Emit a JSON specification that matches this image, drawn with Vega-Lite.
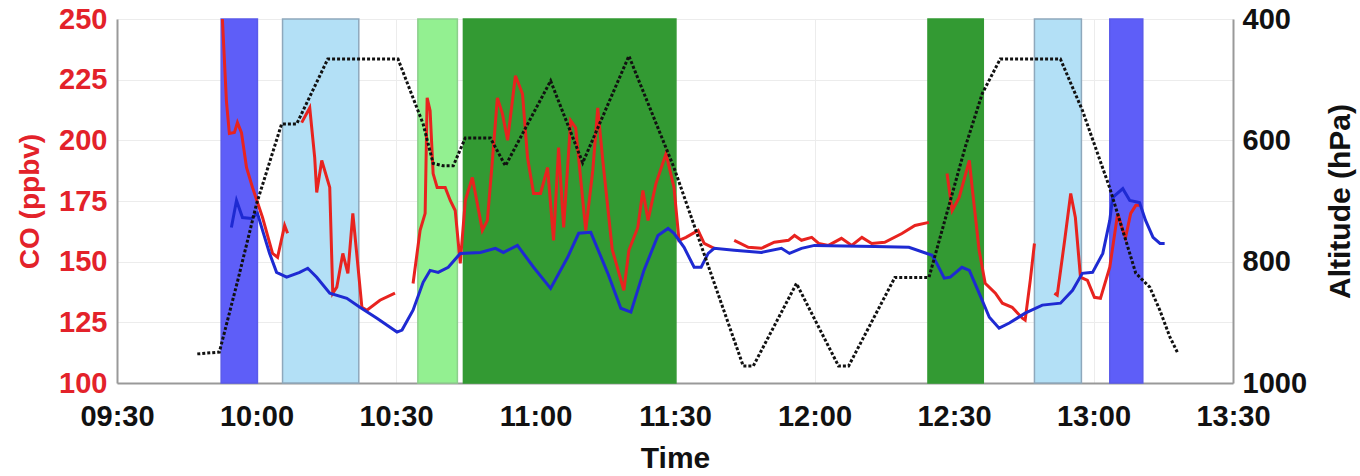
{
  "$schema": "https://vega.github.io/schema/vega-lite/v6.json",
  "width": 1360,
  "height": 476,
  "autosize": {"type": "fit", "contains": "padding"},
  "padding": {"left": 16, "top": 5, "right": 4, "bottom": 3},
  "background": "white",
  "config": {"view": {"stroke": null}},
  "datasets": {
    "bands": [
      {"start": "2000-01-01T09:52:24", "end": "2000-01-01T10:00:12", "kind": "blue"},
      {"start": "2000-01-01T10:05:36", "end": "2000-01-01T10:22:00", "kind": "lightblue"},
      {"start": "2000-01-01T10:34:42", "end": "2000-01-01T10:43:12", "kind": "lightgreen"},
      {"start": "2000-01-01T10:44:30", "end": "2000-01-01T11:30:12", "kind": "green"},
      {"start": "2000-01-01T12:24:24", "end": "2000-01-01T12:36:18", "kind": "green"},
      {"start": "2000-01-01T12:47:18", "end": "2000-01-01T12:57:24", "kind": "lightblue"},
      {"start": "2000-01-01T13:03:30", "end": "2000-01-01T13:10:36", "kind": "blue"}
    ],
    "co": [
      {"series": "measured", "seg": 1, "time": "2000-01-01T09:52:40", "co": 250},
      {"series": "measured", "seg": 1, "time": "2000-01-01T09:53:32", "co": 216},
      {"series": "measured", "seg": 1, "time": "2000-01-01T09:54:10", "co": 202.8},
      {"series": "measured", "seg": 1, "time": "2000-01-01T09:55:15", "co": 203.2},
      {"series": "measured", "seg": 1, "time": "2000-01-01T09:55:54", "co": 207.3},
      {"series": "measured", "seg": 1, "time": "2000-01-01T09:56:46", "co": 203.2},
      {"series": "measured", "seg": 1, "time": "2000-01-01T09:57:51", "co": 188.8},
      {"series": "measured", "seg": 1, "time": "2000-01-01T09:59:08", "co": 180.6},
      {"series": "measured", "seg": 1, "time": "2000-01-01T10:01:18", "co": 168.2},
      {"series": "measured", "seg": 1, "time": "2000-01-01T10:03:27", "co": 153.4},
      {"series": "measured", "seg": 1, "time": "2000-01-01T10:04:32", "co": 151.8},
      {"series": "measured", "seg": 1, "time": "2000-01-01T10:06:03", "co": 164.9},
      {"series": "measured", "seg": 1, "time": "2000-01-01T10:06:41", "co": 161.7},
      {"series": "measured", "seg": 2, "time": "2000-01-01T10:09:43", "co": 207.3},
      {"series": "measured", "seg": 2, "time": "2000-01-01T10:11:27", "co": 213.4},
      {"series": "measured", "seg": 2, "time": "2000-01-01T10:12:31", "co": 192.9},
      {"series": "measured", "seg": 2, "time": "2000-01-01T10:12:57", "co": 178.5},
      {"series": "measured", "seg": 2, "time": "2000-01-01T10:14:02", "co": 191.7},
      {"series": "measured", "seg": 2, "time": "2000-01-01T10:15:45", "co": 180.6},
      {"series": "measured", "seg": 2, "time": "2000-01-01T10:16:24", "co": 137},
      {"series": "measured", "seg": 2, "time": "2000-01-01T10:17:16", "co": 139.5},
      {"series": "measured", "seg": 2, "time": "2000-01-01T10:18:34", "co": 153.4},
      {"series": "measured", "seg": 2, "time": "2000-01-01T10:19:39", "co": 145.2},
      {"series": "measured", "seg": 2, "time": "2000-01-01T10:20:43", "co": 169.9},
      {"series": "measured", "seg": 2, "time": "2000-01-01T10:22:40", "co": 131.2},
      {"series": "measured", "seg": 2, "time": "2000-01-01T10:23:45", "co": 130},
      {"series": "measured", "seg": 2, "time": "2000-01-01T10:26:33", "co": 134.1},
      {"series": "measured", "seg": 2, "time": "2000-01-01T10:29:47", "co": 137},
      {"series": "measured", "seg": 3, "time": "2000-01-01T10:33:40", "co": 141},
      {"series": "measured", "seg": 3, "time": "2000-01-01T10:35:11", "co": 162.9},
      {"series": "measured", "seg": 3, "time": "2000-01-01T10:36:16", "co": 169.9},
      {"series": "measured", "seg": 3, "time": "2000-01-01T10:36:42", "co": 217.5},
      {"series": "measured", "seg": 3, "time": "2000-01-01T10:37:20", "co": 212.2},
      {"series": "measured", "seg": 3, "time": "2000-01-01T10:37:59", "co": 186.3},
      {"series": "measured", "seg": 3, "time": "2000-01-01T10:38:51", "co": 180.6},
      {"series": "measured", "seg": 3, "time": "2000-01-01T10:40:35", "co": 180.6},
      {"series": "measured", "seg": 3, "time": "2000-01-01T10:41:40", "co": 175.2},
      {"series": "measured", "seg": 3, "time": "2000-01-01T10:42:44", "co": 171.1},
      {"series": "measured", "seg": 3, "time": "2000-01-01T10:43:49", "co": 149.3},
      {"series": "measured", "seg": 3, "time": "2000-01-01T10:44:54", "co": 175.2},
      {"series": "measured", "seg": 3, "time": "2000-01-01T10:46:25", "co": 184.7},
      {"series": "measured", "seg": 3, "time": "2000-01-01T10:48:34", "co": 162.9},
      {"series": "measured", "seg": 3, "time": "2000-01-01T10:49:39", "co": 167},
      {"series": "measured", "seg": 3, "time": "2000-01-01T10:50:44", "co": 191.7},
      {"series": "measured", "seg": 3, "time": "2000-01-01T10:51:48", "co": 217.5},
      {"series": "measured", "seg": 3, "time": "2000-01-01T10:52:53", "co": 211},
      {"series": "measured", "seg": 3, "time": "2000-01-01T10:54:00", "co": 200},
      {"series": "measured", "seg": 3, "time": "2000-01-01T10:55:41", "co": 226.6},
      {"series": "measured", "seg": 3, "time": "2000-01-01T10:57:12", "co": 219.2},
      {"series": "measured", "seg": 3, "time": "2000-01-01T10:58:17", "co": 192.9},
      {"series": "measured", "seg": 3, "time": "2000-01-01T10:59:35", "co": 178.1},
      {"series": "measured", "seg": 3, "time": "2000-01-01T11:01:05", "co": 178.1},
      {"series": "measured", "seg": 3, "time": "2000-01-01T11:02:36", "co": 188.8},
      {"series": "measured", "seg": 3, "time": "2000-01-01T11:03:53", "co": 158.8},
      {"series": "measured", "seg": 3, "time": "2000-01-01T11:04:58", "co": 197},
      {"series": "measured", "seg": 3, "time": "2000-01-01T11:06:03", "co": 164.1},
      {"series": "measured", "seg": 3, "time": "2000-01-01T11:07:34", "co": 208.1},
      {"series": "measured", "seg": 3, "time": "2000-01-01T11:08:38", "co": 205.2},
      {"series": "measured", "seg": 3, "time": "2000-01-01T11:10:48", "co": 162.9},
      {"series": "measured", "seg": 3, "time": "2000-01-01T11:12:19", "co": 187.5},
      {"series": "measured", "seg": 3, "time": "2000-01-01T11:13:23", "co": 213.4},
      {"series": "measured", "seg": 3, "time": "2000-01-01T11:14:28", "co": 191.7},
      {"series": "measured", "seg": 3, "time": "2000-01-01T11:16:30", "co": 155},
      {"series": "measured", "seg": 3, "time": "2000-01-01T11:19:00", "co": 138.2},
      {"series": "measured", "seg": 3, "time": "2000-01-01T11:20:05", "co": 154.7},
      {"series": "measured", "seg": 3, "time": "2000-01-01T11:22:00", "co": 164.1},
      {"series": "measured", "seg": 3, "time": "2000-01-01T11:23:06", "co": 179.3},
      {"series": "measured", "seg": 3, "time": "2000-01-01T11:24:12", "co": 167},
      {"series": "measured", "seg": 3, "time": "2000-01-01T11:25:54", "co": 182.2},
      {"series": "measured", "seg": 3, "time": "2000-01-01T11:28:04", "co": 194.5},
      {"series": "measured", "seg": 3, "time": "2000-01-01T11:29:47", "co": 180.6},
      {"series": "measured", "seg": 3, "time": "2000-01-01T11:30:52", "co": 158.8},
      {"series": "measured", "seg": 3, "time": "2000-01-01T11:32:22", "co": 160},
      {"series": "measured", "seg": 3, "time": "2000-01-01T11:34:58", "co": 162.9},
      {"series": "measured", "seg": 3, "time": "2000-01-01T11:36:16", "co": 157.5},
      {"series": "measured", "seg": 3, "time": "2000-01-01T11:38:26", "co": 155.5},
      {"series": "measured", "seg": 4, "time": "2000-01-01T11:42:44", "co": 158.8},
      {"series": "measured", "seg": 4, "time": "2000-01-01T11:45:46", "co": 155.9},
      {"series": "measured", "seg": 4, "time": "2000-01-01T11:48:34", "co": 155.5},
      {"series": "measured", "seg": 4, "time": "2000-01-01T11:51:22", "co": 158},
      {"series": "measured", "seg": 4, "time": "2000-01-01T11:54:24", "co": 158.8},
      {"series": "measured", "seg": 4, "time": "2000-01-01T11:55:42", "co": 160.8},
      {"series": "measured", "seg": 4, "time": "2000-01-01T11:57:12", "co": 158.8},
      {"series": "measured", "seg": 4, "time": "2000-01-01T11:59:24", "co": 160},
      {"series": "measured", "seg": 4, "time": "2000-01-01T12:00:54", "co": 157.5},
      {"series": "measured", "seg": 4, "time": "2000-01-01T12:03:00", "co": 156.7},
      {"series": "measured", "seg": 4, "time": "2000-01-01T12:05:48", "co": 159.6},
      {"series": "measured", "seg": 4, "time": "2000-01-01T12:08:00", "co": 156.7},
      {"series": "measured", "seg": 4, "time": "2000-01-01T12:10:12", "co": 160},
      {"series": "measured", "seg": 4, "time": "2000-01-01T12:12:18", "co": 157.5},
      {"series": "measured", "seg": 4, "time": "2000-01-01T12:15:06", "co": 158},
      {"series": "measured", "seg": 4, "time": "2000-01-01T12:18:48", "co": 161.6},
      {"series": "measured", "seg": 4, "time": "2000-01-01T12:21:36", "co": 164.9},
      {"series": "measured", "seg": 4, "time": "2000-01-01T12:24:36", "co": 166.2},
      {"series": "measured", "seg": 5, "time": "2000-01-01T12:28:30", "co": 186.3},
      {"series": "measured", "seg": 5, "time": "2000-01-01T12:29:36", "co": 171.1},
      {"series": "measured", "seg": 5, "time": "2000-01-01T12:31:06", "co": 176.4},
      {"series": "measured", "seg": 5, "time": "2000-01-01T12:33:18", "co": 191.7},
      {"series": "measured", "seg": 5, "time": "2000-01-01T12:33:54", "co": 180.6},
      {"series": "measured", "seg": 5, "time": "2000-01-01T12:35:24", "co": 154.7},
      {"series": "measured", "seg": 5, "time": "2000-01-01T12:36:42", "co": 141.1},
      {"series": "measured", "seg": 5, "time": "2000-01-01T12:38:54", "co": 137},
      {"series": "measured", "seg": 5, "time": "2000-01-01T12:40:24", "co": 132.9},
      {"series": "measured", "seg": 5, "time": "2000-01-01T12:42:30", "co": 131.2},
      {"series": "measured", "seg": 5, "time": "2000-01-01T12:44:42", "co": 126.7},
      {"series": "measured", "seg": 5, "time": "2000-01-01T12:45:18", "co": 125.9},
      {"series": "measured", "seg": 5, "time": "2000-01-01T12:46:24", "co": 142.3},
      {"series": "measured", "seg": 5, "time": "2000-01-01T12:47:18", "co": 157.5},
      {"series": "measured", "seg": 6, "time": "2000-01-01T12:51:36", "co": 137},
      {"series": "measured", "seg": 6, "time": "2000-01-01T12:52:12", "co": 136.2},
      {"series": "measured", "seg": 6, "time": "2000-01-01T12:53:48", "co": 158.8},
      {"series": "measured", "seg": 6, "time": "2000-01-01T12:55:06", "co": 178.1},
      {"series": "measured", "seg": 6, "time": "2000-01-01T12:56:06", "co": 168.2},
      {"series": "measured", "seg": 6, "time": "2000-01-01T12:57:12", "co": 143.6},
      {"series": "measured", "seg": 6, "time": "2000-01-01T12:58:42", "co": 142.3},
      {"series": "measured", "seg": 6, "time": "2000-01-01T13:00:12", "co": 135.3},
      {"series": "measured", "seg": 6, "time": "2000-01-01T13:01:30", "co": 134.9},
      {"series": "measured", "seg": 6, "time": "2000-01-01T13:03:30", "co": 147.7},
      {"series": "measured", "seg": 6, "time": "2000-01-01T13:05:12", "co": 169.9},
      {"series": "measured", "seg": 6, "time": "2000-01-01T13:06:18", "co": 162.9},
      {"series": "measured", "seg": 6, "time": "2000-01-01T13:06:54", "co": 160},
      {"series": "measured", "seg": 6, "time": "2000-01-01T13:08:00", "co": 169.9},
      {"series": "measured", "seg": 6, "time": "2000-01-01T13:09:06", "co": 173.2},
      {"series": "measured", "seg": 6, "time": "2000-01-01T13:10:12", "co": 173.2},
      {"series": "modelled", "seg": 7, "time": "2000-01-01T09:54:36", "co": 164.1},
      {"series": "modelled", "seg": 7, "time": "2000-01-01T09:55:42", "co": 175.2},
      {"series": "modelled", "seg": 7, "time": "2000-01-01T09:56:59", "co": 168.2},
      {"series": "modelled", "seg": 7, "time": "2000-01-01T09:58:55", "co": 167.8},
      {"series": "modelled", "seg": 7, "time": "2000-01-01T10:00:13", "co": 169.9},
      {"series": "modelled", "seg": 7, "time": "2000-01-01T10:01:18", "co": 162.9},
      {"series": "modelled", "seg": 7, "time": "2000-01-01T10:02:49", "co": 153.4},
      {"series": "modelled", "seg": 7, "time": "2000-01-01T10:04:19", "co": 145.6},
      {"series": "modelled", "seg": 7, "time": "2000-01-01T10:06:29", "co": 143.6},
      {"series": "modelled", "seg": 7, "time": "2000-01-01T10:09:17", "co": 145.6},
      {"series": "modelled", "seg": 7, "time": "2000-01-01T10:11:01", "co": 147.3},
      {"series": "modelled", "seg": 7, "time": "2000-01-01T10:12:57", "co": 143.6},
      {"series": "modelled", "seg": 7, "time": "2000-01-01T10:15:45", "co": 137},
      {"series": "modelled", "seg": 7, "time": "2000-01-01T10:19:26", "co": 134.9},
      {"series": "modelled", "seg": 7, "time": "2000-01-01T10:22:14", "co": 131.2},
      {"series": "modelled", "seg": 7, "time": "2000-01-01T10:25:54", "co": 126.7},
      {"series": "modelled", "seg": 7, "time": "2000-01-01T10:30:13", "co": 121},
      {"series": "modelled", "seg": 7, "time": "2000-01-01T10:31:18", "co": 121.8},
      {"series": "modelled", "seg": 7, "time": "2000-01-01T10:33:40", "co": 130},
      {"series": "modelled", "seg": 7, "time": "2000-01-01T10:35:50", "co": 141.5},
      {"series": "modelled", "seg": 7, "time": "2000-01-01T10:37:20", "co": 146.4},
      {"series": "modelled", "seg": 7, "time": "2000-01-01T10:39:04", "co": 145.6},
      {"series": "modelled", "seg": 7, "time": "2000-01-01T10:41:14", "co": 147.7},
      {"series": "modelled", "seg": 7, "time": "2000-01-01T10:43:49", "co": 153.4},
      {"series": "modelled", "seg": 7, "time": "2000-01-01T10:48:08", "co": 153.8},
      {"series": "modelled", "seg": 7, "time": "2000-01-01T10:51:22", "co": 155.5},
      {"series": "modelled", "seg": 7, "time": "2000-01-01T10:53:06", "co": 153.8},
      {"series": "modelled", "seg": 7, "time": "2000-01-01T10:56:07", "co": 156.7},
      {"series": "modelled", "seg": 7, "time": "2000-01-01T10:59:35", "co": 147.7},
      {"series": "modelled", "seg": 7, "time": "2000-01-01T11:03:15", "co": 139},
      {"series": "modelled", "seg": 7, "time": "2000-01-01T11:06:55", "co": 151.8},
      {"series": "modelled", "seg": 7, "time": "2000-01-01T11:09:17", "co": 161.7},
      {"series": "modelled", "seg": 7, "time": "2000-01-01T11:11:53", "co": 162.1},
      {"series": "modelled", "seg": 7, "time": "2000-01-01T11:15:33", "co": 145.2},
      {"series": "modelled", "seg": 7, "time": "2000-01-01T11:18:21", "co": 130.8},
      {"series": "modelled", "seg": 7, "time": "2000-01-01T11:20:31", "co": 129.2},
      {"series": "modelled", "seg": 7, "time": "2000-01-01T11:23:19", "co": 146.4},
      {"series": "modelled", "seg": 7, "time": "2000-01-01T11:26:20", "co": 160.8},
      {"series": "modelled", "seg": 7, "time": "2000-01-01T11:28:30", "co": 163.7},
      {"series": "modelled", "seg": 7, "time": "2000-01-01T11:29:47", "co": 161.7},
      {"series": "modelled", "seg": 7, "time": "2000-01-01T11:31:57", "co": 155.9},
      {"series": "modelled", "seg": 7, "time": "2000-01-01T11:34:07", "co": 147.7},
      {"series": "modelled", "seg": 7, "time": "2000-01-01T11:35:37", "co": 147.7},
      {"series": "modelled", "seg": 7, "time": "2000-01-01T11:37:08", "co": 153.4},
      {"series": "modelled", "seg": 7, "time": "2000-01-01T11:38:26", "co": 155.5},
      {"series": "modelled", "seg": 7, "time": "2000-01-01T11:42:44", "co": 154.7},
      {"series": "modelled", "seg": 7, "time": "2000-01-01T11:48:34", "co": 153.8},
      {"series": "modelled", "seg": 7, "time": "2000-01-01T11:52:53", "co": 155.5},
      {"series": "modelled", "seg": 7, "time": "2000-01-01T11:54:37", "co": 153.4},
      {"series": "modelled", "seg": 7, "time": "2000-01-01T11:57:12", "co": 155.5},
      {"series": "modelled", "seg": 7, "time": "2000-01-01T12:00:00", "co": 156.7},
      {"series": "modelled", "seg": 7, "time": "2000-01-01T12:12:58", "co": 156.3},
      {"series": "modelled", "seg": 7, "time": "2000-01-01T12:20:18", "co": 155.9},
      {"series": "modelled", "seg": 7, "time": "2000-01-01T12:25:18", "co": 152.6},
      {"series": "modelled", "seg": 7, "time": "2000-01-01T12:26:18", "co": 149.3},
      {"series": "modelled", "seg": 7, "time": "2000-01-01T12:27:54", "co": 143.2},
      {"series": "modelled", "seg": 7, "time": "2000-01-01T12:29:12", "co": 143.6},
      {"series": "modelled", "seg": 7, "time": "2000-01-01T12:31:42", "co": 147.7},
      {"series": "modelled", "seg": 7, "time": "2000-01-01T12:33:18", "co": 146.4},
      {"series": "modelled", "seg": 7, "time": "2000-01-01T12:35:24", "co": 137},
      {"series": "modelled", "seg": 7, "time": "2000-01-01T12:37:36", "co": 127.1},
      {"series": "modelled", "seg": 7, "time": "2000-01-01T12:39:42", "co": 122.6},
      {"series": "modelled", "seg": 7, "time": "2000-01-01T12:41:54", "co": 124.7},
      {"series": "modelled", "seg": 7, "time": "2000-01-01T12:45:18", "co": 128.8},
      {"series": "modelled", "seg": 7, "time": "2000-01-01T12:49:00", "co": 132.1},
      {"series": "modelled", "seg": 7, "time": "2000-01-01T12:52:54", "co": 132.9},
      {"series": "modelled", "seg": 7, "time": "2000-01-01T12:55:30", "co": 138.2},
      {"series": "modelled", "seg": 7, "time": "2000-01-01T12:57:36", "co": 145.2},
      {"series": "modelled", "seg": 7, "time": "2000-01-01T12:59:48", "co": 145.6},
      {"series": "modelled", "seg": 7, "time": "2000-01-01T13:02:00", "co": 153.4},
      {"series": "modelled", "seg": 7, "time": "2000-01-01T13:03:30", "co": 167},
      {"series": "modelled", "seg": 7, "time": "2000-01-01T13:04:06", "co": 176.4},
      {"series": "modelled", "seg": 7, "time": "2000-01-01T13:06:18", "co": 180.1},
      {"series": "modelled", "seg": 7, "time": "2000-01-01T13:07:48", "co": 175.2},
      {"series": "modelled", "seg": 7, "time": "2000-01-01T13:09:54", "co": 174.4},
      {"series": "modelled", "seg": 7, "time": "2000-01-01T13:11:12", "co": 167},
      {"series": "modelled", "seg": 7, "time": "2000-01-01T13:12:48", "co": 160},
      {"series": "modelled", "seg": 7, "time": "2000-01-01T13:14:18", "co": 157.5},
      {"series": "modelled", "seg": 7, "time": "2000-01-01T13:15:18", "co": 157.5}
    ],
    "alt": [
      {"time": "2000-01-01T09:47:16", "p": 952},
      {"time": "2000-01-01T09:52:01", "p": 949},
      {"time": "2000-01-01T09:56:00", "p": 830},
      {"time": "2000-01-01T10:00:00", "p": 705},
      {"time": "2000-01-01T10:05:24", "p": 573},
      {"time": "2000-01-01T10:08:38", "p": 573},
      {"time": "2000-01-01T10:15:20", "p": 466},
      {"time": "2000-01-01T10:30:26", "p": 466},
      {"time": "2000-01-01T10:35:50", "p": 573},
      {"time": "2000-01-01T10:37:59", "p": 638},
      {"time": "2000-01-01T10:40:09", "p": 642},
      {"time": "2000-01-01T10:42:19", "p": 642},
      {"time": "2000-01-01T10:44:54", "p": 596},
      {"time": "2000-01-01T10:50:17", "p": 596},
      {"time": "2000-01-01T10:53:32", "p": 642},
      {"time": "2000-01-01T11:03:15", "p": 502},
      {"time": "2000-01-01T11:10:09", "p": 637},
      {"time": "2000-01-01T11:20:05", "p": 461},
      {"time": "2000-01-01T11:29:47", "p": 645},
      {"time": "2000-01-01T11:44:40", "p": 972},
      {"time": "2000-01-01T11:46:50", "p": 972},
      {"time": "2000-01-01T11:56:07", "p": 836},
      {"time": "2000-01-01T12:05:10", "p": 972},
      {"time": "2000-01-01T12:07:20", "p": 972},
      {"time": "2000-01-01T12:17:17", "p": 826},
      {"time": "2000-01-01T12:24:37", "p": 826},
      {"time": "2000-01-01T12:32:23", "p": 612},
      {"time": "2000-01-01T12:36:04", "p": 523},
      {"time": "2000-01-01T12:39:56", "p": 466},
      {"time": "2000-01-01T12:52:53", "p": 466},
      {"time": "2000-01-01T12:57:38", "p": 551},
      {"time": "2000-01-01T13:03:28", "p": 678},
      {"time": "2000-01-01T13:07:47", "p": 786},
      {"time": "2000-01-01T13:09:05", "p": 819},
      {"time": "2000-01-01T13:12:06", "p": 842},
      {"time": "2000-01-01T13:14:16", "p": 880},
      {"time": "2000-01-01T13:16:25", "p": 924},
      {"time": "2000-01-01T13:18:08", "p": 951}
    ]
  },
  "layer": [
    {
      "data": {"name": "bands"},
      "mark": {"type": "rect", "strokeWidth": 1.5},
      "encoding": {
        "x": {
          "field": "start", "type": "temporal",
          "scale": {"domain": [{"year": 2000, "month": 1, "date": 1, "hours": 9, "minutes": 30}, {"year": 2000, "month": 1, "date": 1, "hours": 13, "minutes": 30}]},
          "axis": {
            "format": "%H:%M", "tickCount": 8,
            "labelFont": "Liberation Sans", "labelFontSize": 29, "labelFontWeight": "bold", "labelColor": "#111111",
            "labelPadding": 19, "labelFlush": false, "labelOverlap": false,
            "ticks": false, "domainColor": "#999999", "domainWidth": 2,
            "grid": true, "gridColor": "#ececec", "gridWidth": 1,
            "title": "Time", "titleFont": "Liberation Sans", "titleFontSize": 30, "titleFontWeight": "bold", "titleColor": "#111111",
            "titlePadding": 12
          }
        },
        "x2": {"field": "end"},
        "color": {"field": "kind", "type": "nominal", "legend": null,
          "scale": {"domain": ["blue", "lightblue", "lightgreen", "green"], "range": ["#5e5ef8", "#b3e0f6", "#93f091", "#339a33"]}},
        "stroke": {"field": "kind", "type": "nominal", "legend": null,
          "scale": {"domain": ["blue", "lightblue", "lightgreen", "green"], "range": ["#5a5aea", "#8ea8bc", "#8ccf8c", "#339a33"]}}
      }
    },
    {
      "data": {"name": "co"},
      "mark": {"type": "line", "strokeWidth": 3},
      "encoding": {
        "x": {"field": "time", "type": "temporal", "title": "Time"},
        "y": {
          "field": "co", "type": "quantitative",
          "scale": {"domain": [100, 250], "nice": false},
          "axis": {
            "values": [100, 125, 150, 175, 200, 225, 250],
            "labelFont": "Liberation Sans", "labelFontSize": 29, "labelFontWeight": "bold", "labelColor": "#e3222a",
            "labelPadding": 10, "labelFlush": false, "labelOverlap": false,
            "ticks": false, "domainColor": "#999999", "domainWidth": 2,
            "grid": true, "gridColor": "#ececec", "gridWidth": 1,
            "title": "CO (ppbv)", "titleFont": "Liberation Sans", "titleFontSize": 28, "titleFontWeight": "bold", "titleColor": "#e3222a",
            "titlePadding": 14
          }
        },
        "color": {"field": "series", "type": "nominal", "legend": null,
          "scale": {"domain": ["measured", "modelled"], "range": ["#e8231f", "#1e2ad2"]}},
        "detail": {"field": "seg", "type": "nominal"}
      }
    },
    {
      "data": {"name": "alt"},
      "mark": {"type": "line", "color": "#111111", "strokeWidth": 3, "strokeDash": [3, 2]},
      "encoding": {
        "x": {"field": "time", "type": "temporal", "title": "Time"},
        "y": {
          "field": "p", "type": "quantitative",
          "scale": {"domain": [400, 1000], "reverse": true, "nice": false},
          "axis": {
            "orient": "right", "values": [400, 600, 800, 1000], "format": "d",
            "labelFont": "Liberation Sans", "labelFontSize": 29, "labelFontWeight": "bold", "labelColor": "#111111",
            "labelPadding": 9, "labelFlush": false, "labelOverlap": false,
            "ticks": false, "domainColor": "#999999", "domainWidth": 2, "grid": false,
            "title": "Altitude (hPa)", "titleFont": "Liberation Sans", "titleFontSize": 30, "titleFontWeight": "bold", "titleColor": "#111111",
            "titlePadding": 49, "titleAngle": 270
          }
        }
      }
    }
  ],
  "resolve": {"scale": {"y": "independent", "color": "independent"}}
}
